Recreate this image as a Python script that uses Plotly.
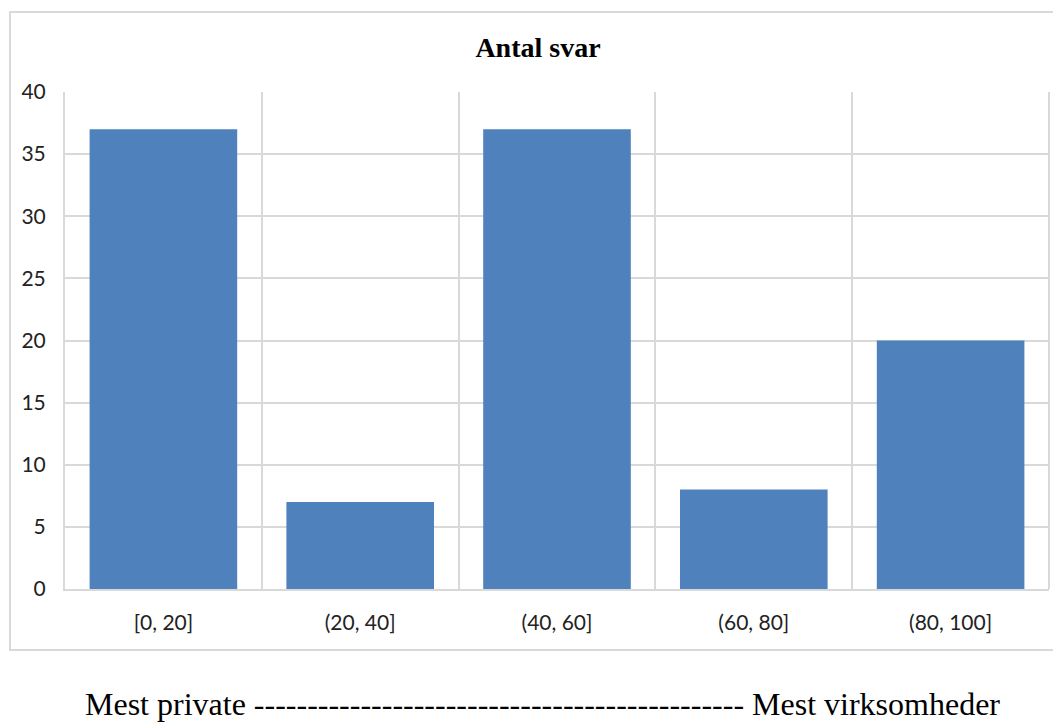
import plotly.graph_objects as go

categories = ["[0, 20]", "(20, 40]", "(40, 60]", "(60, 80]", "(80, 100]"]
values = [37, 7, 37, 8, 20]
y_ticks = [0, 5, 10, 15, 20, 25, 30, 35, 40]
title_text = "Antal svar"
footer_text = "Mest private " + "-" * 46 + " Mest virksomheder"

W, H = 1053, 723
L, R, T, B = 65, 4, 92, 134
pw = W - L - R
ph = H - T - B

def px_to_paper_x(x):
    return (x - L) / pw

def px_to_paper_y(y):
    return (H - B - y) / ph

fig = go.Figure(go.Bar(
    x=categories, y=values,
    marker=dict(color="#4F81BD", line=dict(width=0)),
))

fig.update_layout(
    width=W, height=H,
    margin=dict(l=L, r=R, t=T, b=B, pad=0),
    paper_bgcolor="white", plot_bgcolor="white",
    bargap=0.25,
    showlegend=False,
    title=dict(text="<b>" + title_text + "</b>", x=538 / W, xref="container",
               xanchor="center", y=1 - 47 / H, yref="container", yanchor="middle",
               font=dict(family="Liberation Serif", size=28, color="black")),
    font=dict(family="Lato", size=21, color="#222222"),
)

fig.update_xaxes(
    type="category", tickson="boundaries", showgrid=True, gridcolor="#D9D9D9", gridwidth=2,
    showline=True, linecolor="#D9D9D9", linewidth=2, mirror=False,
    ticks="", ticklabelstandoff=14,
    tickfont=dict(family="Lato", size=21, color="#222222"),
    range=[-0.5, 4.5],
)
fig.update_yaxes(
    range=[0, 40], tickvals=y_ticks, showgrid=True, gridcolor="#D9D9D9", gridwidth=2,
    showline=True, linecolor="#D9D9D9", linewidth=2, zeroline=False,
    ticks="outside", ticklen=13, tickcolor="rgba(0,0,0,0)",
    tickfont=dict(family="Lato", size=21, color="#222222"),
)

# outer chart border
fig.add_shape(type="rect", xref="paper", yref="paper",
              x0=px_to_paper_x(10), x1=px_to_paper_x(1070),
              y0=px_to_paper_y(650), y1=px_to_paper_y(12),
              line=dict(color="#D9D9D9", width=2), fillcolor="rgba(0,0,0,0)", layer="below")
# right border of plot area
fig.add_shape(type="line", xref="paper", yref="paper", x0=1, x1=1, y0=0, y1=1,
              line=dict(color="#D9D9D9", width=2), layer="below")

fig.add_annotation(text=footer_text, xref="paper", yref="paper",
                   x=px_to_paper_x(542), y=px_to_paper_y(704),
                   xanchor="center", yanchor="middle", showarrow=False,
                   font=dict(family="Liberation Serif", size=32, color="black"))

fig.write_html("out.html", config={"displayModeBar": False},
               post_script="document.body.style.margin='0px';document.body.style.overflow='hidden';")
